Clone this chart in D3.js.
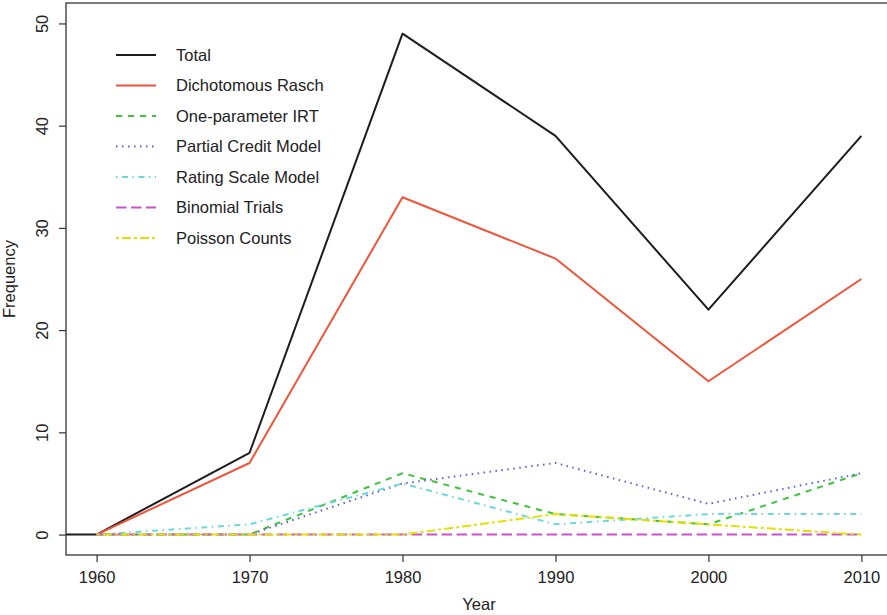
<!DOCTYPE html>
<html>
<head>
<meta charset="utf-8">
<script src="https://cdn.jsdelivr.net/npm/d3@7"></script>
<style>
  html, body { margin: 0; padding: 0; background: #fff; }
  svg { display: block; }
  text { font-family: "Liberation Sans", Arial, Helvetica, sans-serif; fill: #222; }
</style>
</head>
<body>
<svg id="chart" width="887" height="615"></svg>
<script>
// ---- data ----
const years = [1950, 1960, 1970, 1980, 1990, 2000, 2010];
const total            = [0, 0, 8, 49, 39, 22, 39];
const dichotomousRasch = [null, 0, 7, 33, 27, 15, 25];
const oneParameterIRT  = [null, 0, 0, 6, 2, 1, 6];
const partialCredit    = [null, 0, 0, 5, 7, 3, 6];
const ratingScale      = [null, 0, 1, 5, 1, 2, 2];
const binomialTrials   = [null, 0, 0, 0, 0, 0, 0];
const poissonCounts    = [null, 0, 0, 0, 2, 1, 0];
const seriesNames = ["Total", "Dichotomous Rasch", "One-parameter IRT", "Partial Credit Model",
                     "Rating Scale Model", "Binomial Trials", "Poisson Counts"];
const xTicks = [1960, 1970, 1980, 1990, 2000, 2010];
const yTicks = [0, 10, 20, 30, 40, 50];

(function () {
// ---- styles ----
const seriesValues = [total, dichotomousRasch, oneParameterIRT, partialCredit, ratingScale, binomialTrials, poissonCounts];
const colors = ["#1c1c1c", "#f0553a", "#3cc43c", "#5c5cd4", "#6cd8d8", "#cc50cc", "#e4e000"];
const dashes = [null, null, "6,6", "1.5,4.5", "1.5,4.5,6,4.5", "10.5,4.5", "3,3,9,3"];

const svg = d3.select("#chart");
const pL = 66, pR = 892, pT = 3, pB = 555;
const x = d3.scaleLinear().domain([1958, 2012]).range([pL, pR]);
const y = d3.scaleLinear().domain([-2, 52]).range([pB, pT]);
const fs = "16.5px";

svg.append("defs").append("clipPath").attr("id", "clip")
  .append("rect").attr("x", pL).attr("y", pT).attr("width", pR - pL).attr("height", pB - pT);

// lines
const line = d3.line()
  .defined(d => d.v !== null)
  .x(d => x(d.year)).y(d => y(d.v));
const g = svg.append("g").attr("clip-path", "url(#clip)");
seriesValues.forEach((vals, i) => {
  const pts = years.map((yr, j) => ({ year: yr, v: vals[j] }));
  g.append("path").datum(pts)
    .attr("d", line)
    .attr("fill", "none")
    .attr("stroke", colors[i])
    .attr("stroke-width", 2)
    .attr("stroke-dasharray", dashes[i])
    .attr("stroke-linejoin", "round");
});

// box
svg.append("rect").attr("x", pL).attr("y", pT).attr("width", pR - pL).attr("height", pB - pT)
  .attr("fill", "none").attr("stroke", "#333").attr("stroke-width", 1.3);

// x axis
const xAxis = svg.append("g").attr("transform", `translate(0,${pB})`)
  .call(d3.axisBottom(x).tickValues(xTicks).tickFormat(d3.format("d")).tickSize(7).tickSizeOuter(0));
xAxis.select(".domain").remove();
xAxis.selectAll("line").attr("stroke", "#333").attr("stroke-width", 1.2);
xAxis.selectAll("text").attr("y", 28).attr("dy", null)
  .style("font-size", fs).style("fill", "#222").style("font-family", '"Liberation Sans", Arial, sans-serif');

// y axis
const yAxis = svg.append("g").attr("transform", `translate(${pL},0)`)
  .call(d3.axisLeft(y).tickValues(yTicks).tickFormat(d3.format("d")).tickSize(7).tickSizeOuter(0));
yAxis.select(".domain").remove();
yAxis.selectAll("line").attr("stroke", "#333").attr("stroke-width", 1.2);
yAxis.selectAll("text")
  .attr("transform", "rotate(-90)")
  .attr("x", 0).attr("y", -18).attr("dy", null)
  .attr("text-anchor", "middle")
  .style("font-size", fs).style("fill", "#222").style("font-family", '"Liberation Sans", Arial, sans-serif');

// axis titles
svg.append("text").attr("x", 479).attr("y", 610).attr("text-anchor", "middle")
  .style("font-size", fs).text("Year");
svg.append("text").attr("transform", `translate(15,${(pT + pB) / 2}) rotate(-90)`)
  .attr("text-anchor", "middle").style("font-size", fs).text("Frequency");

// legend
const leg = svg.append("g");
seriesNames.forEach((name, i) => {
  const cy = 55 + i * 30.5;
  leg.append("line").attr("x1", 116).attr("x2", 156).attr("y1", cy).attr("y2", cy)
    .attr("stroke", colors[i]).attr("stroke-width", 2).attr("stroke-dasharray", dashes[i]);
  leg.append("text").attr("x", 176).attr("y", cy).attr("dy", "0.35em")
    .style("font-size", fs).text(name);
});
})();
</script>
</body>
</html>
